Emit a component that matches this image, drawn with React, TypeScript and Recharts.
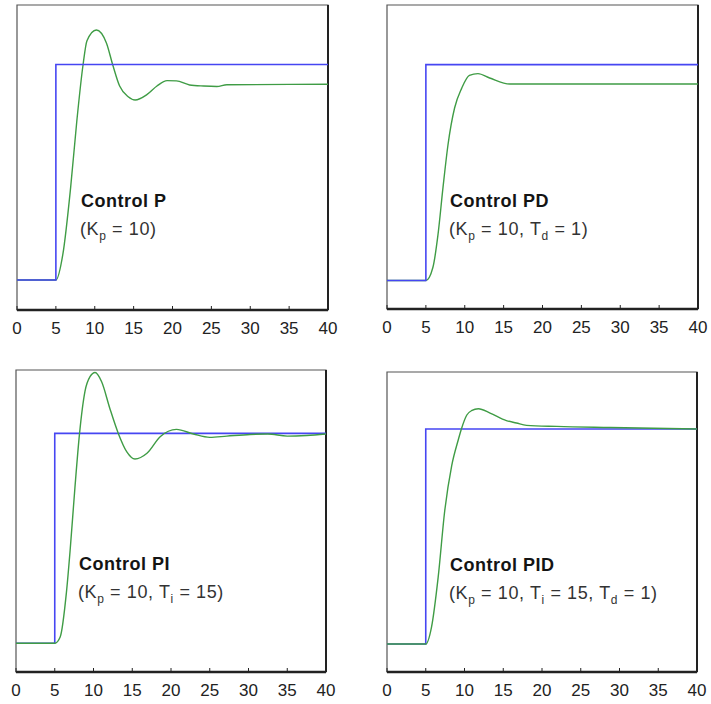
import React from "react";
import {
  LineChart,
  Line,
  XAxis,
  YAxis,
  ReferenceArea,
  ReferenceLine,
} from "recharts";

const FONT = '"Liberation Sans", Arial, sans-serif';
const BLUE = "#4646f2";
const GREEN = "#3f9c45";

const ticksX = [0, 5, 10, 15, 20, 25, 30, 35, 40];

// set point (same step for every panel)
const stepT = [0, 5, 5, 40];
const stepV = [0, 0, 1, 1];

// Control P
const pT = [0, 5, 5.9, 6.9, 7.7, 8.5, 9.0, 10.2, 11.5, 12.3, 13.2, 14.3, 15.2, 16.7, 18.0, 19.3, 20.5, 22.2, 24.0, 25.7, 27.0, 40];
const pV = [0, 0, 0.12, 0.43, 0.74, 1.0, 1.11, 1.16, 1.1, 1.0, 0.9, 0.85, 0.835, 0.86, 0.9, 0.925, 0.924, 0.905, 0.9, 0.898, 0.906, 0.908];

// Control PD
const pdT = [0, 5, 5.9, 6.55, 7.2, 7.85, 8.7, 9.6, 10.6, 11.7, 13.2, 15.8, 40];
const pdV = [0, 0, 0.06, 0.21, 0.43, 0.63, 0.8, 0.89, 0.95, 0.958, 0.938, 0.91, 0.91];

// Control PI
const piT = [0, 5, 5.7, 6.5, 7.0, 7.6, 8.2, 8.9, 9.55, 10.2, 11.05, 12.1, 13.2, 14.3, 15.35, 16.9, 18.6, 20.7, 22.9, 25.0, 27.2, 30.2, 32.5, 35.0, 37.5, 40];
const piV = [0, 0, 0.03, 0.24, 0.45, 0.74, 1.0, 1.2, 1.27, 1.29, 1.246, 1.12, 1.0, 0.912, 0.878, 0.905, 0.984, 1.019, 0.997, 0.981, 0.987, 0.995, 0.997, 0.987, 0.99, 0.997];

// Control PID
const pidT = [0, 5, 5.75, 6.6, 7.45, 8.35, 9.2, 9.6, 10.3, 10.9, 11.8, 13.3, 15.4, 16.7, 18.0, 21.9, 28.8, 40];
const pidV = [0, 0, 0.08, 0.31, 0.62, 0.83, 0.95, 1.0, 1.065, 1.085, 1.094, 1.074, 1.039, 1.028, 1.017, 1.012, 1.007, 1.0];

const toRows = (ts: number[], vs: number[]) => ts.map((t, i) => ({ t, v: vs[i] }));

interface PanelProps {
  x: number;
  y: number;
  w: number;
  h: number;
  margin: { top: number; right: number; bottom: number; left: number };
  axisH: number;
  yDomain: [number, number];
  out: { t: number; v: number }[];
  greenOnTop?: boolean;
}

function StepPanel({ x, y, w, h, margin, axisH, yDomain, out, greenOnTop }: PanelProps) {
  const ref = toRows(stepT, stepV);
  const blue = (
    <Line
      key="sp"
      data={ref}
      dataKey="v"
      type="linear"
      stroke={BLUE}
      strokeWidth={1.6}
      dot={false}
      activeDot={false}
      isAnimationActive={false}
    />
  );
  const green = (
    <Line
      key="pv"
      data={out}
      dataKey="v"
      type="monotone"
      stroke={GREEN}
      strokeWidth={1.4}
      dot={false}
      activeDot={false}
      isAnimationActive={false}
    />
  );
  return (
    <div style={{ position: "absolute", left: x, top: y }}>
      <LineChart width={w} height={h} margin={margin}>
        <XAxis
          type="number"
          dataKey="t"
          domain={[0, 40]}
          ticks={ticksX}
          interval={0}
          height={axisH}
          tickSize={-4}
          tickMargin={16}
          axisLine={{ stroke: "#222", strokeWidth: 2.5 }}
          tickLine={{ stroke: "#222" }}
          tick={{ fill: "#222", fontSize: 17, fontFamily: FONT }}
        />
        <YAxis hide type="number" domain={yDomain} allowDataOverflow />
        <ReferenceArea
          x1={0}
          x2={40}
          y1={yDomain[0]}
          y2={yDomain[1]}
          fill="none"
          stroke="#555"
          strokeWidth={1.2}
        />
        <ReferenceLine x={40} stroke="#222" strokeWidth={2} />
        {greenOnTop ? [blue, green] : [green, blue]}
      </LineChart>
    </div>
  );
}

function Caption({ x, y, title, parts }: { x: number; y: number; title: string; parts: [string, string][] }) {
  return (
    <g fontFamily={FONT}>
      <text x={x + 1} y={y} fontSize={18} fontWeight="bold" fill="#141414" letterSpacing={0.5}>
        {title}
      </text>
      <text x={x} y={y + 28} fontSize={18} fill="#333" letterSpacing={0.6}>
        {parts.map(([main, sub], i) => (
          <React.Fragment key={i}>
            <tspan dy={i > 0 && parts[i - 1][1] ? -5 : 0}>{main}</tspan>
            {sub ? (
              <tspan fontSize={12} dy={5}>
                {sub}
              </tspan>
            ) : null}
          </React.Fragment>
        ))}
      </text>
    </g>
  );
}

export default function App() {
  return (
    <div
      style={{
        position: "absolute",
        left: 0,
        top: 0,
        width: 711,
        height: 704,
        background: "#fff",
        overflow: "hidden",
      }}
    >
      <StepPanel
        x={0}
        y={0}
        w={345}
        h={345}
        margin={{ top: 5, right: 17, bottom: 0, left: 17 }}
        axisH={35}
        yDomain={[-0.139, 1.276]}
        out={toRows(pT, pV)}
      />
      <StepPanel
        x={360}
        y={0}
        w={351}
        h={345}
        margin={{ top: 5, right: 13, bottom: 0, left: 27 }}
        axisH={36}
        yDomain={[-0.132, 1.276]}
        out={toRows(pdT, pdV)}
      />
      <StepPanel
        x={0}
        y={355}
        w={345}
        h={349}
        margin={{ top: 15, right: 19, bottom: 0, left: 16 }}
        axisH={32}
        yDomain={[-0.137, 1.302]}
        out={toRows(piT, piV)}
        greenOnTop
      />
      <StepPanel
        x={360}
        y={355}
        w={351}
        h={349}
        margin={{ top: 17, right: 14, bottom: 0, left: 27 }}
        axisH={32}
        yDomain={[-0.13, 1.265]}
        out={toRows(pidT, pidV)}
        greenOnTop
      />
      <svg
        width={711}
        height={704}
        style={{ position: "absolute", left: 0, top: 0, pointerEvents: "none" }}
      >
        <Caption x={80} y={207} title="Control P" parts={[["(K", "p"], [" = 10)", ""]]} />
        <Caption
          x={449}
          y={207}
          title="Control PD"
          parts={[["(K", "p"], [" = 10, T", "d"], [" = 1)", ""]]}
        />
        <Caption
          x={78}
          y={570}
          title="Control PI"
          parts={[["(K", "p"], [" = 10, T", "i"], [" = 15)", ""]]}
        />
        <Caption
          x={449}
          y={571}
          title="Control PID"
          parts={[["(K", "p"], [" = 10, T", "i"], [" = 15, T", "d"], [" = 1)", ""]]}
        />
      </svg>
    </div>
  );
}
